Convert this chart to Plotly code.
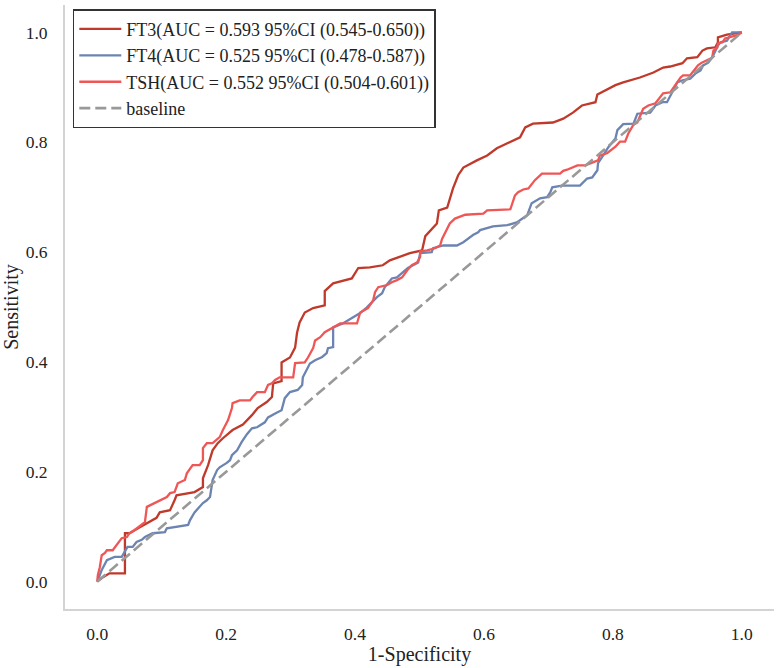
import plotly.graph_objects as go

# ---- data ----
ft3_fpr = [0, 0.009, 0.019, 0.043, 0.043, 0.050, 0.066, 0.092, 0.097, 0.113, 0.120, 0.123, 0.151, 0.164, 0.164,
           0.172, 0.179, 0.187, 0.195, 0.210, 0.226, 0.240, 0.249, 0.263, 0.271, 0.273, 0.286, 0.286, 0.299,
           0.307, 0.310, 0.314, 0.318, 0.322, 0.335, 0.353, 0.353, 0.366, 0.395, 0.405, 0.423, 0.443, 0.454,
           0.470, 0.485, 0.504, 0.509, 0.527, 0.530, 0.543, 0.552, 0.560, 0.568, 0.589, 0.605, 0.620, 0.637,
           0.656, 0.664, 0.676, 0.707, 0.723, 0.738, 0.752, 0.773, 0.776, 0.804, 0.816, 0.842, 0.863, 0.878,
           0.889, 0.908, 0.915, 0.931, 0.939, 0.946, 0.959, 0.963, 0.963, 0.977, 0.987, 1.0]
ft3_tpr = [0, 0.008, 0.015, 0.015, 0.088, 0.088, 0.099, 0.116, 0.126, 0.130, 0.148, 0.157, 0.163, 0.172, 0.188,
           0.212, 0.239, 0.252, 0.261, 0.276, 0.286, 0.303, 0.316, 0.327, 0.336, 0.361, 0.365, 0.399, 0.408,
           0.426, 0.453, 0.472, 0.481, 0.490, 0.498, 0.503, 0.529, 0.543, 0.552, 0.571, 0.572, 0.576, 0.585,
           0.592, 0.598, 0.603, 0.629, 0.652, 0.676, 0.681, 0.716, 0.740, 0.754, 0.767, 0.776, 0.789, 0.798,
           0.809, 0.827, 0.834, 0.836, 0.843, 0.854, 0.867, 0.873, 0.887, 0.904, 0.909, 0.918, 0.927, 0.936,
           0.938, 0.944, 0.953, 0.955, 0.967, 0.971, 0.973, 0.982, 0.991, 0.996, 0.998, 1.0]

ft4_fpr = [0, 0.007, 0.015, 0.027, 0.038, 0.047, 0.055, 0.061, 0.069, 0.074, 0.086, 0.105, 0.108, 0.120, 0.141,
           0.144, 0.151, 0.164, 0.170, 0.175, 0.178, 0.179, 0.186, 0.190, 0.201, 0.206, 0.209, 0.217, 0.224,
           0.232, 0.240, 0.248, 0.260, 0.265, 0.279, 0.286, 0.291, 0.299, 0.311, 0.318, 0.319, 0.325, 0.330,
           0.338, 0.349, 0.356, 0.358, 0.366, 0.366, 0.381, 0.397, 0.408, 0.418, 0.434, 0.442, 0.446, 0.457,
           0.465, 0.474, 0.482, 0.490, 0.498, 0.501, 0.519, 0.521, 0.537, 0.558, 0.568, 0.583, 0.591, 0.594,
           0.614, 0.636, 0.651, 0.667, 0.670, 0.674, 0.687, 0.698, 0.703, 0.706, 0.721, 0.749, 0.760, 0.768,
           0.776, 0.777, 0.785, 0.793, 0.804, 0.807, 0.816, 0.832, 0.838, 0.858, 0.866, 0.877, 0.884, 0.892,
           0.900, 0.908, 0.920, 0.928, 0.936, 0.940, 0.948, 0.954, 0.959, 0.963, 0.967, 0.977, 0.985, 1.0]
ft4_tpr = [0, 0.021, 0.039, 0.045, 0.045, 0.063, 0.063, 0.072, 0.076, 0.081, 0.088, 0.090, 0.097, 0.099, 0.103,
           0.112, 0.126, 0.143, 0.148, 0.154, 0.172, 0.185, 0.203, 0.208, 0.216, 0.221, 0.230, 0.239, 0.254,
           0.268, 0.279, 0.281, 0.290, 0.299, 0.308, 0.312, 0.334, 0.345, 0.349, 0.358, 0.372, 0.385, 0.397,
           0.403, 0.409, 0.416, 0.425, 0.427, 0.463, 0.470, 0.481, 0.489, 0.499, 0.518, 0.525, 0.536, 0.552,
           0.554, 0.563, 0.571, 0.576, 0.581, 0.598, 0.600, 0.607, 0.612, 0.612, 0.618, 0.631, 0.636, 0.640,
           0.647, 0.649, 0.654, 0.667, 0.676, 0.689, 0.698, 0.700, 0.709, 0.718, 0.721, 0.721, 0.734, 0.736,
           0.749, 0.762, 0.776, 0.791, 0.807, 0.822, 0.833, 0.834, 0.852, 0.854, 0.867, 0.873, 0.873, 0.891,
           0.909, 0.913, 0.916, 0.925, 0.931, 0.940, 0.945, 0.954, 0.967, 0.976, 0.982, 0.985, 1.0, 1.0]

tsh_fpr = [0, 0.001, 0.004, 0.007, 0.012, 0.015, 0.024, 0.032, 0.038, 0.046, 0.050, 0.058, 0.069, 0.074, 0.077,
           0.089, 0.097, 0.108, 0.113, 0.120, 0.125, 0.136, 0.139, 0.148, 0.159, 0.164, 0.164, 0.170, 0.179,
           0.190, 0.195, 0.203, 0.209, 0.210, 0.221, 0.237, 0.241, 0.248, 0.260, 0.265, 0.271, 0.276, 0.283,
           0.304, 0.307, 0.322, 0.327, 0.335, 0.338, 0.346, 0.353, 0.366, 0.377, 0.403, 0.408, 0.420, 0.428,
           0.431, 0.436, 0.450, 0.457, 0.465, 0.473, 0.481, 0.488, 0.496, 0.501, 0.501, 0.512, 0.524, 0.532,
           0.535, 0.540, 0.547, 0.555, 0.563, 0.571, 0.599, 0.605, 0.641, 0.648, 0.653, 0.661, 0.669, 0.675,
           0.679, 0.690, 0.718, 0.723, 0.729, 0.745, 0.757, 0.768, 0.777, 0.780, 0.791, 0.804, 0.811, 0.819,
           0.824, 0.832, 0.838, 0.847, 0.855, 0.866, 0.878, 0.889, 0.900, 0.905, 0.909, 0.920, 0.928, 0.932,
           0.938, 0.946, 0.954, 0.956, 0.962, 0.963, 0.970, 0.974, 0.982, 0.993, 1.0]
tsh_tpr = [0, 0.012, 0.026, 0.048, 0.052, 0.057, 0.057, 0.070, 0.079, 0.081, 0.088, 0.094, 0.103, 0.108, 0.136,
           0.143, 0.148, 0.154, 0.161, 0.163, 0.179, 0.185, 0.197, 0.212, 0.212, 0.221, 0.243, 0.252, 0.252,
           0.263, 0.276, 0.294, 0.316, 0.325, 0.330, 0.330, 0.336, 0.345, 0.345, 0.358, 0.361, 0.367, 0.372,
           0.372, 0.398, 0.399, 0.408, 0.425, 0.439, 0.445, 0.454, 0.463, 0.470, 0.470, 0.490, 0.498, 0.512,
           0.527, 0.536, 0.540, 0.545, 0.549, 0.554, 0.567, 0.576, 0.581, 0.591, 0.601, 0.603, 0.607, 0.612,
           0.624, 0.636, 0.652, 0.661, 0.665, 0.668, 0.670, 0.676, 0.678, 0.703, 0.709, 0.714, 0.716, 0.725,
           0.731, 0.743, 0.743, 0.748, 0.750, 0.758, 0.758, 0.763, 0.767, 0.776, 0.780, 0.792, 0.801, 0.801,
           0.816, 0.832, 0.836, 0.861, 0.867, 0.871, 0.889, 0.891, 0.909, 0.918, 0.922, 0.922, 0.934, 0.940,
           0.945, 0.949, 0.954, 0.967, 0.973, 0.980, 0.982, 0.989, 0.991, 0.995, 1.0]

base_x = [0, 1]
base_y = [0, 1]

names = ["FT3(AUC = 0.593 95%CI (0.545-0.650))",
         "FT4(AUC = 0.525 95%CI (0.478-0.587))",
         "TSH(AUC = 0.552 95%CI (0.504-0.601))",
         "baseline"]
colors = ["#bf3a2b", "#6c84b2", "#ef5656", "#999999"]

FONT = "Liberation Serif, Times New Roman, serif"

fig = go.Figure()
for i, (xs, ys, nm, c) in enumerate([(ft3_fpr, ft3_tpr, names[0], colors[0]),
                                     (ft4_fpr, ft4_tpr, names[1], colors[1]),
                                     (tsh_fpr, tsh_tpr, names[2], colors[2])]):
    fig.add_trace(go.Scatter(x=xs, y=ys, mode="lines", name=nm,
                             line=dict(color=c, width=2.3)))
fig.add_trace(go.Scatter(x=base_x, y=base_y, mode="lines", name=names[3],
                         line=dict(color=colors[3], width=2.6, dash="11px,5px")))

fig.update_layout(
    width=780, height=668,
    margin=dict(l=65, r=6, t=4.5, b=59),
    paper_bgcolor="white", plot_bgcolor="white",
    font=dict(family=FONT, size=17, color="#222222"),
    legend=dict(x=0.011, y=0.993, xanchor="left", yanchor="top",
                bgcolor="white", bordercolor="#333333", borderwidth=1.5,
                font=dict(family=FONT, size=18, color="#222222"),
                tracegroupgap=0, itemwidth=42),
    showlegend=True,
)
fig.update_xaxes(range=[-0.05, 1.05], tickvals=[0, 0.2, 0.4, 0.6, 0.8, 1.0],
                 tickformat=".1f", showgrid=False, zeroline=False,
                 showline=True, linecolor="#d3d3d3", linewidth=2,
                 ticks="outside", ticklen=8, tickcolor="rgba(0,0,0,0)",
                 tickfont=dict(size=17.5),
                 title=dict(text="1-Specificity", font=dict(size=20), standoff=4))
fig.update_yaxes(range=[-0.05, 1.05], tickvals=[0, 0.2, 0.4, 0.6, 0.8, 1.0],
                 tickformat=".1f", showgrid=False, zeroline=False,
                 showline=True, linecolor="#d3d3d3", linewidth=2,
                 ticks="outside", ticklen=12, tickcolor="rgba(0,0,0,0)",
                 tickfont=dict(size=17.5),
                 title=dict(text="Sensitivity", font=dict(size=20), standoff=6))

fig.write_html("out.html")
